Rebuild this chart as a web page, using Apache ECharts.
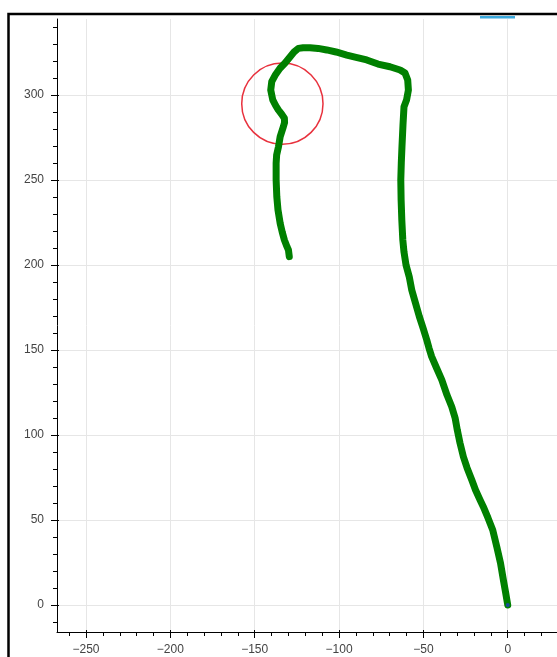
<!DOCTYPE html>
<html>
<head>
<meta charset="utf-8">
<script src="https://cdn.jsdelivr.net/npm/echarts@6/dist/echarts.min.js"></script>
<style>
  html, body { margin: 0; padding: 0; background: #fff; }
  #chart { width: 557px; height: 657px; }
</style>
</head>
<body>
<div id="chart"></div>
<script>
// Track coordinates (x, y), starting at the origin
const trackX = [
  0, -1.3, -2.6, -4.3, -6.5, -8.9, -11.7, -14.5, -16.4, -19.1,
  -21.3, -24.1, -26.3, -28.3, -29.9, -31.2, -33.2, -36.0, -39.1, -42.2,
  -45.1, -46.7, -48.0, -50.2, -52.4, -54.7, -56.9, -58.4, -60.3, -61.5,
  -62.2, -62.8, -63.2, -63.4, -63.1, -62.7, -62.1, -61.5, -60.0, -58.9,
  -59.3, -60.9, -63.8, -69.8, -76.9, -83.6, -89.9, -95.4, -101.8, -107.3,
  -112.4, -117.2, -121.3, -124.1, -126.7, -129.1, -132.0, -135.0, -137.6, -139.9,
  -140.5, -139.3, -137.6, -136.0, -134.1, -132.4, -132.3, -133.0, -134.9, -135.9,
  -137.0, -137.3, -137.3, -136.9, -136.2, -134.9, -133.7, -132.4, -130.8, -130.0,
  -129.5
];
const trackY = [
  0, 7.6, 14.7, 24.7, 34.3, 44.1, 51.2, 57.8, 61.8, 67.6,
  73.5, 80.6, 87.2, 95.3, 102.9, 110.0, 116.6, 123.5, 132.4, 139.4,
  146.1, 151.2, 155.9, 162.9, 169.6, 177.6, 185.3, 193.1, 200.0, 207.6,
  214.7, 226.5, 238.2, 250.0, 260.0, 269.6, 282.4, 293.1, 297.0, 302.9,
  308.8, 312.9, 314.7, 316.6, 318.2, 320.6, 322.1, 323.5, 325.3, 326.5,
  327.4, 327.8, 327.8, 327.4, 325.3, 322.4, 318.8, 315.7, 312.1, 307.8,
  302.9, 297.1, 293.8, 291.2, 288.8, 286.3, 283.8, 281.4, 275.5, 269.6,
  264.7, 259.8, 250.0, 240.2, 232.4, 224.5, 219.4, 214.7, 210.6, 208.8,
  204.9
];

// Highlighted region: centre and radius in data units
const circleCenter = [-133.6, 294.9];
const circleRadius = 24;

// Axis ranges and tick values
const xRange = [-267.2, 29.2];
const yRange = [-15.9, 344.7];
const xMajorTicks = [-250, -200, -150, -100, -50, 0];
const yMajorTicks = [0, 50, 100, 150, 200, 250, 300];
const xMinorTicks = [-260, -240, -230, -220, -210, -190, -180, -170, -160, -140, -130, -120, -110, -90, -80, -70, -60, -40, -30, -20, -10, 10, 20];
const yMinorTicks = [-10, 10, 20, 30, 40, 60, 70, 80, 90, 110, 120, 130, 140, 160, 170, 180, 190, 210, 220, 230, 240, 260, 270, 280, 290, 310, 320, 330, 340];

const trackData = trackX.map((x, i) => [x, trackY[i]]);

const labelFont = {
  color: '#444',
  fontSize: 12,
  fontFamily: '"Liberation Sans", Arial, Helvetica, sans-serif'
};
const minus = v => String(v).replace('-', '\u2212');

// Three stacked axes per direction: main (line, major ticks, labels, grid),
// minor ticks, and the short inward part of the major ticks.
function axisSet(range, major, minor, isX) {
  const base = {
    type: 'value',
    min: range[0],
    max: range[1],
    position: isX ? 'bottom' : 'left'
  };
  return [
    Object.assign({}, base, {
      axisLine: { show: true, onZero: false, lineStyle: { color: '#000', width: 1 } },
      axisTick: { show: true, inside: false, length: 6, customValues: major, lineStyle: { color: '#000', width: 1 } },
      axisLabel: Object.assign({ show: true, margin: isX ? 12 : 13, customValues: major, formatter: minus }, labelFont),
      splitLine: { show: true, lineStyle: { color: '#e6e6e6', width: 1 } }
    }),
    Object.assign({}, base, {
      axisLine: { show: false, onZero: false },
      axisTick: { show: true, inside: false, length: 4, customValues: minor, lineStyle: { color: '#000', width: 1 } },
      axisLabel: { show: false },
      splitLine: { show: false }
    }),
    Object.assign({}, base, {
      axisLine: { show: false, onZero: false },
      axisTick: { show: true, inside: true, length: 2, customValues: major, lineStyle: { color: '#000', width: 1 } },
      axisLabel: { show: false },
      splitLine: { show: false }
    })
  ];
}

const chart = echarts.init(document.getElementById('chart'), null, { renderer: 'canvas' });

chart.setOption({
  animation: false,
  backgroundColor: '#fff',
  grid: {
    left: 57, top: 19, right: 0, bottom: 25,
    containLabel: false,
    outerBoundsMode: 'none'
  },
  xAxis: axisSet(xRange, xMajorTicks, xMinorTicks, true),
  yAxis: axisSet(yRange, yMajorTicks, yMinorTicks, false),
  graphic: [
    {
      type: 'rect',
      shape: { x: 8.5, y: 14, width: 700, height: 800 },
      style: { fill: 'none', stroke: '#000', lineWidth: 2.5 },
      silent: true,
      z: 100
    },
    {
      type: 'rect',
      shape: { x: 480, y: 16, width: 35, height: 2.5 },
      style: { fill: '#3aa8dc' },
      silent: true,
      z: 100
    }
  ],
  series: [
    {
      type: 'custom',
      xAxisIndex: 0,
      yAxisIndex: 0,
      z: 1,
      clip: true,
      data: [[circleCenter[0], circleCenter[1], circleRadius]],
      renderItem: function (params, api) {
        const c = api.coord([api.value(0), api.value(1)]);
        const s = api.size([api.value(2), api.value(2)]);
        const r = (s[0] + s[1]) / 2;
        return {
          type: 'circle',
          shape: { cx: c[0], cy: c[1], r: r },
          style: { fill: 'none', stroke: '#e8313d', lineWidth: 1.5 }
        };
      }
    },
    {
      type: 'line',
      xAxisIndex: 0,
      yAxisIndex: 0,
      z: 2,
      data: trackData,
      showSymbol: false,
      smooth: false,
      lineStyle: { color: '#008000', width: 7, cap: 'round', join: 'round' }
    },
    {
      type: 'scatter',
      xAxisIndex: 0,
      yAxisIndex: 0,
      z: 3,
      data: [trackData[0]],
      symbol: 'circle',
      symbolSize: 4,
      itemStyle: { color: '#1f3fbf' }
    }
  ]
});
</script>
</body>
</html>
